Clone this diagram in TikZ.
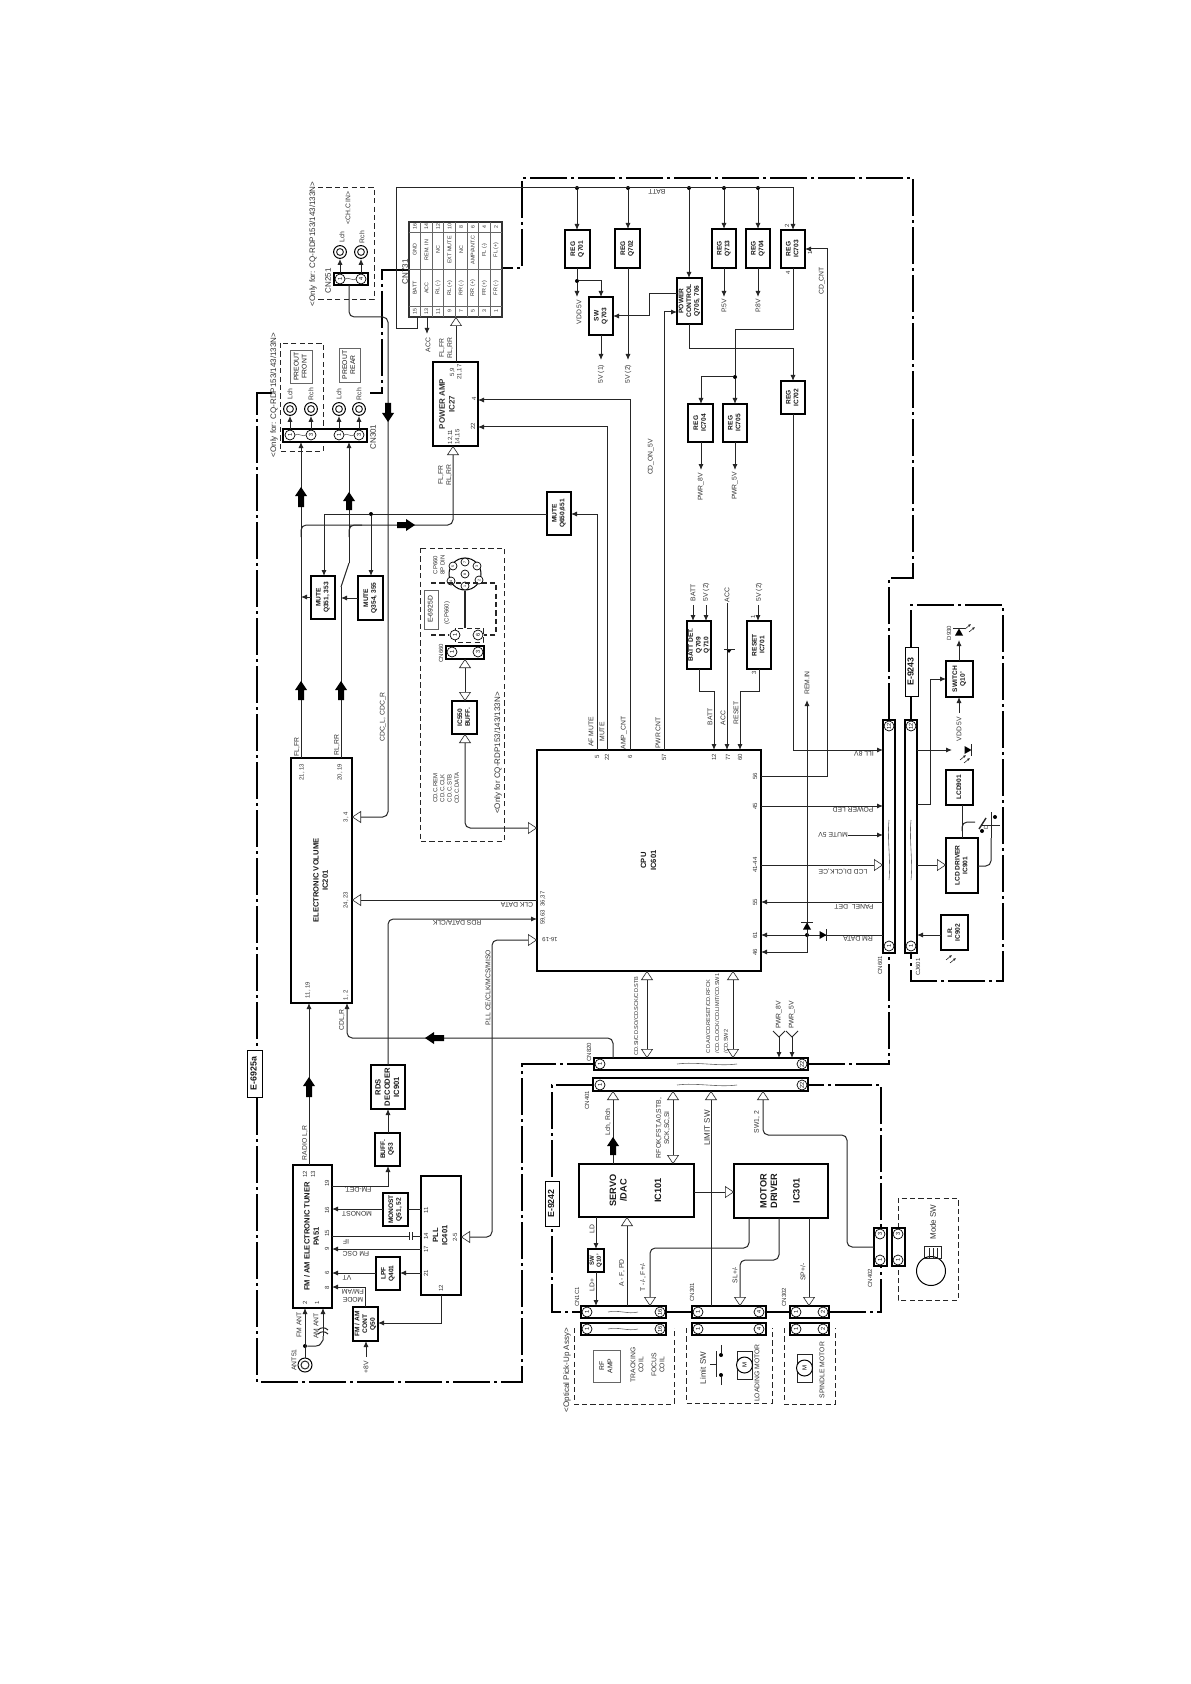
\documentclass[tikz,border=0pt]{standalone}
\usepackage{fontspec}
\usepackage{graphicx}
\setmainfont{Liberation Sans}
\usetikzlibrary{arrows.meta}
\newcounter{lc}
\newcommand\rtxt[1]{\rotatebox{90}{\begin{tabular}{@{}c@{}}#1\end{tabular}}}
\newcommand\bx[7][box]{\node (#2) [#1, minimum width={(#5-#3)*.5pt}, minimum height={(#6-#4)*.5pt}] at ({(#3+#5)/2},{(#4+#6)/2}) {\rtxt{#7}};}
\newcommand\lb[3]{\stepcounter{lc}\node (l\arabic{lc}) [lab] at (#1,#2) {#3};}
\newcommand\lbs[3]{\stepcounter{lc}\node (l\arabic{lc}) [lab,font=\fontsize{3}{3.6}\selectfont] at (#1,#2) {#3};}
\newcommand\lbb[3]{\stepcounter{lc}\node (l\arabic{lc}) [lab,font=\fontsize{4}{4.8}\selectfont] at (#1,#2) {#3};}
\newcommand\lr[3]{\stepcounter{lc}\node (l\arabic{lc}) [lab,rotate=90] at (#1,#2) {#3};}
\newcommand\pc[4]{\node (#1) [pinc] at (#2,#3) {\rotatebox{90}{#4}};}
\newcommand\dt[3]{\node (#1) [dotn] at (#2,#3) {};}
\newcommand\jack[3]{\node (#1) [jackn] at (#2,#3) {}; \draw[ln] (#1.center) circle[radius=1.7pt];}
\newcommand\fatV[4]{\fill[black] ({#1-3},#3)--({#1-3},{#2+9*#4})--({#1-6},{#2+9*#4})--(#1,#2)--({#1+6},{#2+9*#4})--({#1+3},{#2+9*#4})--({#1+3},#3)--cycle;}
\newcommand\fatH[4]{\fill[black] (#3,{#1-3})--({#2+9*#4},{#1-3})--({#2+9*#4},{#1-6})--(#2,#1)--({#2+9*#4},{#1+6})--({#2+9*#4},{#1+3})--(#3,{#1+3})--cycle;}
\newcommand\wave[3]{\draw[black!60,line width=.3pt] (#1,#3) .. controls ({#1+(#2-#1)/3},{#3-2.5}) and ({#1+2*(#2-#1)/3},{#3+2.5}) .. (#2,#3);}
\newcommand\vwave[3]{\draw[black!60,line width=.3pt] (#3,#1) .. controls ({#3-2},{#1+(#2-#1)/3}) and ({#3+2},{#1+2*(#2-#1)/3}) .. (#3,#2);}
\newcommand\diode[3]{\begin{scope}[shift={(#1,#2)},rotate=#3]\fill[black] (-3.5,-4)--(3.5,0)--(-3.5,4)--cycle;\draw[ln] (3.5,-6)--(3.5,6);\end{scope}}
\newcommand\raysm[2]{\begin{scope}[shift={(#1,#2)}]\draw[ln,line width=.3pt,-{Latex[length=1.4pt,width=1.3pt]}] (-2,2)--(4,-3);\draw[ln,line width=.3pt,-{Latex[length=1.4pt,width=1.3pt]}] (2,5)--(8,0);\end{scope}}
\newcommand\motorsym[5]{\draw[ln] (#2,#3) rectangle (#4,#5);\node (#1) [circle,draw=black,line width=.5pt,fill=white,inner sep=0pt,minimum size=8pt,font=\fontsize{3}{3}\selectfont] at ({(#2+#4)/2},{(#3+#5)/2}) {\rotatebox{90}{M}};}
\tikzset{
  x=.5pt,y=-.5pt,
  mysol/.tip={Latex[length=3pt,width=2.6pt]},
  myhol/.tip={Triangle[open,fill=white,length=4.5pt,width=6pt,line width=.3pt]},
  ln/.style={draw=black!85,line width=.5pt},
  ar/.style={ln,-{mysol}},
  ho/.style={ln,-{myhol}},
  hb/.style={ln,{myhol}-{myhol}},
  rc/.style={rounded corners=2.6pt},
  box/.style={draw=black,fill=white,line width=.75pt,inner sep=0pt,outer sep=0pt,text=black!90,font=\fontsize{3.3}{3.9}\selectfont\bfseries},
  boxm/.style={box,font=\fontsize{3.8}{4.6}\selectfont\bfseries},
  boxl/.style={box,font=\fontsize{4.3}{5.3}\selectfont\bfseries},
  boxe/.style={box,line width=.5pt,font=\fontsize{4.4}{5.2}\selectfont\bfseries},
  boxt/.style={box,draw=black!60,line width=.4pt,font=\fontsize{3.4}{4.1}\selectfont\mdseries},
  conn/.style={draw=black,fill=white,line width=.7pt,inner sep=0pt,outer sep=0pt,font=\fontsize{2}{2}\selectfont},
  lab/.style={inner sep=0pt,outer sep=0pt,rotate=90,align=center,text=black!80,font=\fontsize{3.4}{4.1}\selectfont},
  pinc/.style={circle,draw=black,line width=.35pt,fill=white,inner sep=0pt,minimum size=5pt,font=\fontsize{2.8}{3}\selectfont},
  dotn/.style={circle,fill=black,inner sep=0pt,minimum size=2pt},
  jackn/.style={circle,draw=black,line width=.5pt,fill=white,inner sep=0pt,minimum size=6.4pt},
  frame/.style={draw=black,line width=1pt,dash pattern=on 18.5pt off 2pt on 1.5pt off 2pt},
  dbox/.style={draw=black!85,line width=.4pt,dash pattern=on 2.6pt off 1.6pt},
}
\begin{document}
\begin{tikzpicture}
\fill[white] (0,0) rectangle (1190,1684);
\useasboundingbox (0,0) rectangle (1190,1684);
% frames
\draw[frame] (272,393)--(257,393)--(257,1382)--(522,1382)--(522,1064)--(594,1064);
\draw[frame] (808,1064)--(889,1064)--(889,953);
\draw[frame] (889,720)--(889,578)--(913,578)--(913,178)--(522,178)--(522,268)--(502,268);
\draw[frame] (409,270)--(382,270)--(382,393)--(370,393);
\draw[frame] (593,1085)--(552,1085)--(552,1312)--(581,1312);
\draw[frame] (666,1312)--(692,1312);
\draw[frame] (766,1312)--(790,1312);
\draw[frame] (829,1312)--(881,1312)--(881,1085)--(808,1085);
\draw[frame] (911,647)--(911,605)--(1003,605)--(1003,981)--(911,981)--(911,953);
\draw[line width=1pt] (911,696)--(911,720);
\bx[boxe]{e6925}{247}{1050}{262}{1097}{E-6925a}
\bx[boxe]{e9242}{545}{1181}{559}{1226}{E-9242}
\bx[boxe]{e9243}{905}{647}{918}{696}{E-9243}
% dashed groups
\draw[dbox] (318,187)--(374,187)--(374,299)--(318,299);
\draw[dbox] (280,343) rectangle (323,451);
\draw[dbox] (420,548) rectangle (504,841);
\draw[dbox] (574,1328)--(574,1404)--(674,1404)--(674,1328);
\draw[dbox] (686,1328)--(686,1403)--(772,1403)--(772,1328);
\draw[dbox] (784,1328)--(784,1404)--(835,1404)--(835,1328);
\draw[dbox] (898,1228)--(898,1198)--(958,1198)--(958,1300)--(898,1300)--(898,1266);
% CN251
\lbb{313}{244}{<Only for: CQ-RDP153/143/133N>}
\lb{348}{208}{<CH.C IN>}
\jack{j251a}{340}{252}\jack{j251b}{361}{252}
\lb{342}{237}{Lch}\lb{362}{237}{Rch}
\bx[conn]{cn251}{334}{273}{368}{285}{}
\pc{p251a}{340}{279}{1}\pc{p251b}{361}{279}{4}
\wave{345}{356}{279}
\lbb{328}{281}{CN251}
\draw[ar] (cn251.north -| 340,0) -- (j251a.south);
\draw[ar] (cn251.north -| 361,0) -- (j251b.south);
% CN301
\lbb{274}{395}{<Only for: CQ-RDP153/143/133N>}
\bx[boxt]{pfront}{290}{350}{312}{383}{PREOUT\\FRONT}
\bx[boxt]{prear}{339}{348}{360}{382}{PREOUT\\REAR}
\jack{j1}{290}{409}\jack{j2}{311}{409}\jack{j3}{339}{409}\jack{j4}{359}{409}
\lb{290}{394}{Lch}\lb{311}{394}{Rch}\lb{339}{394}{Lch}\lb{359}{394}{Rch}
\bx[conn]{cn301}{283}{429}{367}{442}{}
\pc{p301a}{290}{435}{1}\pc{p301b}{311}{435}{3}\pc{p301c}{339}{435}{1}\pc{p301d}{359}{435}{3}
\wave{295}{306}{435}\wave{344}{354}{435}
\lbb{373}{437}{CN301}
\draw[ar] (cn301.north -| 290,0) -- (j1.south);
\draw[ar] (cn301.north -| 311,0) -- (j2.south);
\draw[ar] (cn301.north -| 339,0) -- (j3.south);
\draw[ar] (cn301.north -| 359,0) -- (j4.south);
% CN731 table
\bx[boxt,draw=black!80,line width=.55pt]{cn731}{409}{222}{502}{317}{}
\foreach \k in {1,...,7}{\draw[black!60,line width=.35pt] ({409+11.6*\k},222)--({409+11.6*\k},317);}
\foreach \k in {232,269,306}{\draw[black!60,line width=.35pt] (409,\k)--(502,\k);}
\foreach \i/\a/\b/\c/\d in {0/15/BATT/GND/16,1/13/ACC/REM. IN/14,2/11/RL (-)/NC/12,3/9/RL (+)/EXT MUTE/10,4/7/RR (-)/NC/8,5/5/RR (+)/{AMP/ANT.C}/6,6/3/FR (+)/FL (-)/4,7/1/FR (-)/FL (+)/2}{
  \node (ta\i) [lab,font=\fontsize{2.6}{3}\selectfont] at ({414.8+11.6*\i},311.5) {\a};
  \node (tb\i) [lab,font=\fontsize{2.7}{3}\selectfont] at ({414.8+11.6*\i},288) {\b};
  \node (tc\i) [lab,font=\fontsize{2.7}{3}\selectfont] at ({414.8+11.6*\i},250) {\c};
  \node (td\i) [lab,font=\fontsize{2.6}{3}\selectfont] at ({414.8+11.6*\i},227) {\d};
}
\lbb{405}{272}{CN731}
\coordinate (accend) at (427,334);
\draw[ar] (cn731.south -| 427,0) -- (accend);
\lb{428}{345}{ACC}
% Power amp
\bx[box,line width=.9pt]{pa}{433}{362}{478}{446}{}
\lbb{447}{404}{\bfseries POWER AMP\\\bfseries IC27}
\lbs{454}{437}{12,11\\14,15}\lbs{456}{372}{5,9\\21,17}
\lbs{474}{399}{4}\lbs{473}{426}{22}
\lb{446}{348}{FL,FR\\RL,RR}\lb{445}{475}{FL,FR\\RL,RR}
\draw[ho] (pa.north -| 456,0) -- (cn731.south -| 456,0);
% Mutes
\bx{q650}{547}{492}{571}{535}{MUTE\\Q650,651}
\bx{q351}{311}{576}{335}{619}{MUTE\\Q351, 353}
\bx{q354}{358}{576}{383}{620}{MUTE\\Q354, 355}
\dt{jm}{371}{514}
\coordinate (sw1) at (341,587);\coordinate (sw2) at (349,563);
% IC201
\bx[boxm]{ic201}{291}{758}{352}{1003}{ELECTRONIC VOLUME\\IC201}
\lbs{302}{772}{21, 13}\lbs{340}{772}{20, 19}\lbs{346}{817}{3, 4}\lbs{346}{900}{24, 23}\lbs{308}{990}{11, 19}\lbs{346}{995}{1, 2}
\lb{297}{747}{FL,FR}\lb{337}{745}{RL,RR}\lb{383}{717}{CDC\_L, CDC\_R}
\draw[ar] (ic201.north -| 301,0) -- (cn301.south -| 301,0);
\draw[ln] (ic201.north -| 341,0) -- (sw1);
\draw[ln] (sw1) -- (sw2);
\draw[ar] (sw2) -- (cn301.south -| 349,0);
\draw[ho,rc] (301,537) -- (301,525) -- (453,525) -- (pa.south -| 453,0);
\draw[ln,rc] (349,537) -- (349,525) -- (362,525);
\draw[ln] (q650.west |- 0,514) -- (jm) -- (324,514);
\draw[ar] (324,514) -- (q351.north -| 324,0);
\draw[ar] (jm) -- (q354.north -| 371,0);
\draw[ar] (q351.west |- 0,597) -- (301,597);
\draw[ar] (q354.west |- 0,598) -- (341,598);
\draw[ho,rc] (cn251.south -| 349,0) -- (349,317) -- (388,317) -- (388,817) -- (ic201.east |- 0,817);
\fatV{388}{422}{403}{-1}
\fatV{301}{487}{507}{1}\fatV{349}{492}{510}{1}
\fatV{301}{681}{700}{1}\fatV{341}{681}{700}{1}
\fatH{525}{415}{397}{-1}
% CP660 group
\node (din) [circle,draw=black,line width=.5pt,fill=white,inner sep=0pt,minimum size=16pt] at (465,574) {};
\foreach \nm/\xx/\yy/\tx in {a/465/574/8,b/453/566/5,c/465/562/7,d/477/566/3,e/451/581/4,f/465/586/1,g/479/580/2}{
  \node (din\nm) [pinc,minimum size=4pt,font=\fontsize{1.8}{2}\selectfont] at (\xx,\yy) {\rotatebox{90}{\tx}};}
\lbs{439}{565}{CP660\\8P DIN}
\bx[boxt]{e6925d}{424}{590}{438}{629}{E-6925D}
\lbs{447}{613}{(CP660)}
\draw[dbox] (455,628) rectangle (483,642);
\pc{p660a}{455}{635}{1}\pc{p660b}{478}{635}{6}
\draw[dbox,line width=.7pt] (431,583)--(496,583)--(496,635)--(484,635);
\draw[dbox,line width=.7pt] (431,635)--(449,635);
\draw[ln,line width=.7pt] (din.south) -- (465,628);
\bx[conn]{cn660}{446}{646}{484}{659}{}
\pc{p660c}{452}{652}{1}\pc{p660d}{478}{652}{3}
\lbs{441}{653}{CN660}
\bx{ic550}{452}{701}{477}{734}{IC550\\BUFF.}
\draw[hb] (cn660.south -| 465,0) -- (ic550.north -| 465,0);
\lbs{446}{788}{CD.C.REM\\CD.C.CLK\\CD.C.STB\\CD.C.DATA}
\lbb{498}{753}{<Only for CQ-RDP153/143/133N>}
% CPU
\bx[boxl,line width=.9pt,font=\fontsize{3.8}{5}\selectfont\bfseries]{cpu}{537}{750}{761}{971}{CPU\\IC601}
\draw[hb,rc] (ic550.south -| 465,0) -- (465,828) -- (cpu.west |- 0,828);
\lbs{597}{757}{5}\lbs{607}{757}{22}\lbs{630}{757}{6}\lbs{664}{757}{57}\lbs{714}{757}{12}\lbs{728}{757}{77}\lbs{740}{757}{60}
\lbs{755}{776}{56}\lbs{755}{806}{45}\lbs{755}{865}{41-44}\lbs{755}{902}{55}\lbs{755}{935}{61}\lbs{755}{952}{46}
\lbs{543}{908}{59,63\ \ 36,37}
\node (lcpu1619) [lab,rotate=90,font=\fontsize{3}{3.6}\selectfont] at (550,940) {16-19};
\lb{591}{732}{AF MUTE}\lb{602}{732}{MUTE}\lb{624}{733}{AMP\_CNT}\lb{658}{733}{PWR CNT}
\lb{710}{717}{BATT}\lb{723}{718}{ACC}\lb{736}{713}{RESET}
\lr{864}{754}{ILL 8V}\lr{853}{810}{POWER LED}\lr{833}{835}{MUTE 5V}\lr{843}{871}{LCD DI,CLK,CE}\lr{854}{906}{PANEL\_DET}\lr{858}{939}{RM DATA}
\lr{517}{905}{CLK DATA}\lr{457}{923}{RDS DATA/CLK}
\lb{488}{988}{P.LL CE/CLK/MCS/MISO}
\draw[ho] (cpu.west |- 0,900) -- (ic201.east |- 0,900);
% Tuner area
\bx[boxm]{tuner}{293}{1165}{332}{1308}{FM / AM ELECTRONIC TUNER\\PA51}
\lb{305}{1143}{RADIO L,R}
\lbs{305}{1174}{12}\lbs{313}{1174}{13}\lbs{327}{1183}{19}\lbs{327}{1210}{16}\lbs{327}{1233}{15}\lbs{327}{1249}{9}\lbs{327}{1273}{6}\lbs{327}{1288}{8}\lbs{305}{1303}{2}\lbs{317}{1303}{1}
\bx[boxm]{rds}{371}{1065}{405}{1109}{RDS\\DECODER\\IC901}
\bx{buff}{375}{1133}{400}{1166}{BUFF.\\Q53}
\bx{monost}{383}{1193}{408}{1226}{MONOST\\Q51, 52}
\bx[boxm]{pll}{421}{1176}{461}{1295}{PLL\\IC401}
\bx{lpf}{376}{1257}{400}{1290}{LPF\\Q401}
\bx{fmcont}{353}{1307}{378}{1341}{FM / AM\\CONT\\Q50}
\lbs{426}{1210}{11}\lbs{426}{1236}{14}\lbs{426}{1249}{17}\lbs{426}{1273}{21}\lbs{441}{1288}{12}\lbs{455}{1237}{2-5}
\lr{358}{1190}{FM-DET.}\lr{357}{1214}{MONOST}\lr{346}{1242}{IF}\lr{356}{1254}{FM OSC}\lr{347}{1278}{VT}\lr{353}{1296}{MODE\\FM/AM}
\lb{299}{1325}{FM ANT}\lb{316}{1326}{AM ANT}\lb{294}{1360}{ANT51}\lb{366}{1367}{+8V}
\lb{342}{1020}{CDL,R}
\draw[ar] (tuner.north -| 309,0) -- (ic201.south -| 309,0);
\fatV{309}{1077}{1097}{1}
\draw[ar,rc] (rds.north -| 388,0) -- (388,919) -- (cpu.west |- 0,919);
\draw[ar] (buff.north -| 388,0) -- (rds.south -| 388,0);
\draw[ar] (tuner.east |- 0,1186) -- (388,1186) -- (buff.south -| 388,0);
\draw[ar] (monost.west |- 0,1209) -- (tuner.east |- 0,1209);
\draw[ln] (pll.west |- 0,1209) -- (monost.east |- 0,1209);
\coordinate (capa) at (409,1236);\coordinate (capb) at (412,1236);
\draw[ln] (tuner.east |- 0,1236) -- (capa);
\draw[ln] (capb) -- (pll.west |- 0,1236);
\draw[ln] (409,1232)--(409,1240);\draw[ln] (412,1232)--(412,1240);
\draw[ar] (pll.west |- 0,1249) -- (tuner.east |- 0,1249);
\draw[ar] (pll.west |- 0,1273) -- (lpf.east |- 0,1273);
\draw[ar] (lpf.west |- 0,1273) -- (tuner.east |- 0,1273);
\draw[ar] (fmcont.north -| 365,0) -- (365,1287) -- (tuner.east |- 0,1287);
\draw[ar] (pll.south -| 441,0) -- (441,1323) -- (fmcont.east |- 0,1323);
\coordinate (p8v) at (366,1357);
\draw[ar] (p8v) -- (fmcont.south -| 366,0);
\draw[hb,rc] (cpu.west |- 0,940) -- (492,940) -- (492,1237) -- (pll.east |- 0,1237);
\node (ant) [jackn,minimum size=7pt] at (305,1365) {};
\draw[ln] (ant.center) circle[radius=2pt];
\dt{jant}{305}{1346}
\draw[ar] (ant.north) -- (tuner.south -| 305,0);
\coordinate (amc) at (323,1336);
\draw[ln] (jant) -- (316,1346) .. controls (321,1346) and (321,1342) .. (323,1340) -- (amc);
\draw[ar] (amc) -- (tuner.south -| 323,0);
\draw[ln] (318,1330) .. controls (321,1327) and (325,1327) .. (328,1330);
\draw[ln] (318,1334) .. controls (321,1331) and (325,1331) .. (328,1334);
% CN820 / CN401
\bx[conn]{cn820}{594}{1058}{808}{1070}{}
\bx[conn]{cn401}{593}{1078}{808}{1091}{}
\pc{p820a}{600}{1064}{1}\pc{p820b}{802}{1064}{22}\pc{p401a}{600}{1085}{1}\pc{p401b}{802}{1085}{22}
\wave{677}{737}{1064}\wave{677}{737}{1085}
\lbs{589}{1052}{CN820}\lbs{587}{1100}{CN401}
\draw[ar,rc] (cn820.north -| 613,0) -- (613,1038) -- (347,1038) -- (ic201.south -| 347,0);
\fatH{1038}{425}{444}{1}
\draw[hb] (cn820.north -| 647,0) -- (cpu.south -| 647,0);
\draw[hb] (cn820.north -| 733,0) -- (cpu.south -| 733,0);
\node (lcd2) [lab,font=\fontsize{2.8}{3.4}\selectfont] at (636,1016) {CD.SI/CD.SO/CD.SCK/CD.STB};
\node (lcd3) [lab,align=left,anchor=west,font=\fontsize{2.8}{4.4}\selectfont] at (717,1053) {CD.A0/CD.RESET/CD.RFCK\\/CD.CLOCK/CD.LIMIT/CD.SW1\\/CD.SW2};
\coordinate (y8) at (779,1037);\coordinate (y5) at (792,1037);
\draw[ar] (y8) -- (cn820.north -| 779,0);\draw[ar] (y5) -- (cn820.north -| 792,0);
\draw[ln] (773,1031)--(y8)--(785,1031);\draw[ln] (786,1031)--(y5)--(798,1031);
\lb{779}{1015}{PWR\_8V}\lb{792}{1015}{PWR\_5V}
% Servo etc
\bx[boxl,line width=.8pt,font=\fontsize{4.6}{5.3}\selectfont\bfseries]{servo}{579}{1164}{694}{1217}{SERVO\\/DAC\\[12pt]IC101}
\bx[boxl,line width=.8pt,font=\fontsize{4.6}{5.3}\selectfont\bfseries]{motor}{734}{1164}{828}{1218}{MOTOR\\DRIVER\\[6pt]IC301}
\bx[box,line width=.6pt,font=\fontsize{3}{3.5}\selectfont\bfseries]{swq}{588}{1249}{604}{1272}{SW\\Q10'}
\bx[conn]{cn1c1}{581}{1306}{666}{1318}{}
\bx[conn]{cn1c1b}{581}{1323}{666}{1335}{}
\bx[conn]{cn301b}{692}{1306}{766}{1318}{}
\bx[conn]{cn301c}{692}{1323}{766}{1335}{}
\bx[conn]{cn302}{790}{1306}{829}{1318}{}
\bx[conn]{cn302b}{790}{1323}{829}{1335}{}
\pc{pa1}{587}{1312}{1}\pc{pa2}{660}{1312}{16}\pc{pa3}{587}{1329}{1}\pc{pa4}{660}{1329}{16}
\pc{pb1}{698}{1312}{1}\pc{pb2}{759}{1312}{4}\pc{pb3}{698}{1329}{1}\pc{pb4}{759}{1329}{4}
\pc{pc1}{796}{1312}{1}\pc{pc2}{823}{1312}{2}\pc{pc3}{796}{1329}{1}\pc{pc4}{823}{1329}{2}
\wave{608}{638}{1312}\wave{608}{638}{1329}
\lbs{577}{1297}{CN1C1}\lbs{692}{1292}{CN301}\lbs{784}{1297}{CN302}
\draw[ho] (servo.north -| 613,0) -- (cn401.south -| 613,0);
\fatV{613}{1137}{1155}{1}
\lb{608}{1122}{Lch, Rch}
\draw[hb] (servo.north -| 673,0) -- (cn401.south -| 673,0);
\lb{663}{1128}{RFOK,FST,A0,STB,\\SCK,SC,SI}
\draw[ho] (cn301b.north -| 711,0) -- (cn401.south -| 711,0);
\lbb{707}{1128}{LIMIT SW}
\bx[conn]{cn402a}{874}{1228}{887}{1266}{}
\bx[conn]{cn402b}{892}{1228}{905}{1266}{}
\pc{pd1}{880}{1234}{3}\pc{pd2}{880}{1260}{1}\pc{pd3}{898}{1234}{3}\pc{pd4}{898}{1260}{1}
\lbs{870}{1278}{CN402}
\draw[ho,rc] (cn402a.west |- 0,1247) -- (847,1247) -- (847,1135) -- (763,1135) -- (cn401.south -| 763,0);
\lb{757}{1122}{SW1, 2}
\draw[ho] (servo.east |- 0,1192) -- (motor.west |- 0,1192);
\draw[ar] (servo.south -| 596,0) -- (swq.north -| 596,0);
\lb{592}{1229}{LD}
\draw[ar] (swq.south -| 596,0) -- (cn1c1.north -| 596,0);
\lb{592}{1285}{LD+}
\draw[ho] (cn1c1.north -| 627,0) -- (servo.south -| 627,0);
\lb{622}{1273}{A - F, PD}
\draw[ho,rc] (motor.south -| 749,0) -- (749,1248) -- (650,1248) -- (cn1c1.north -| 650,0);
\lb{643}{1277}{T -/-, F+/-}
\draw[ho,rc] (motor.south -| 779,0) -- (779,1260) -- (740,1260) -- (cn301b.north -| 740,0);
\lb{735}{1275}{SL+/-}
\draw[ho] (motor.south -| 809,0) -- (cn302.north -| 809,0);
\lb{803}{1272}{SP+/-}
% pick-up, motors, mode sw
\lbb{567}{1370}{<Optical Pick-Up Assy>}
\bx[boxt]{rfamp}{593}{1350}{620}{1382}{RF\\AMP}
\lb{637}{1365}{TRACKING\\COIL}\lb{658}{1365}{FOCUS\\COIL}
\lbb{703}{1368}{Limit SW}
\dt{sa}{721}{1355}\dt{sb}{721}{1375}
\draw[ln] (716,1351)--(716,1377);
\draw[ln] (721,1345)--(sa);\draw[ln] (721,1385)--(sb);
\draw[ln] (716,1364)--(710,1364);
\motorsym{mload}{737}{1351}{752}{1379}
\lb{757}{1373}{LOADING MOTOR}
\motorsym{mspin}{797}{1354}{812}{1382}
\lb{822}{1370}{SPINDLE MOTOR}
\lbb{933}{1222}{Mode SW}
\node (modec) [circle,draw=black,line width=.5pt,fill=white,inner sep=0pt,minimum size=14.5pt] at (931,1271) {};
\draw[ln] (924,1246) rectangle (941,1258);
\foreach \q in {929,933,937}{\draw[ln,line width=.3pt] (\q,1248)--(\q,1258);}
% REG block
\dt{d1}{577}{188}\dt{d2}{628}{188}\dt{d3}{689}{188}\dt{d4}{724}{188}\dt{d5}{758}{188}
\bx{q701}{565}{230}{590}{268}{REG\\Q701}
\bx{q702}{615}{229}{640}{268}{REG\\Q702}
\bx{q713}{712}{229}{736}{268}{REG\\Q713}
\bx{q704}{746}{229}{770}{268}{REG\\Q704}
\bx{ic703}{781}{230}{805}{268}{REG\\IC703}
\bx{pctl}{677}{278}{702}{324}{POWER\\CONTROL\\Q705, 706}
\bx{swq703}{589}{297}{613}{335}{SW\\Q703}
\bx{ic702}{781}{381}{805}{414}{REG\\IC702}
\bx{ic704}{688}{404}{713}{442}{REG\\IC704}
\bx{ic705}{723}{404}{747}{442}{REG\\IC705}
\lr{657}{192}{BATT}
\draw[ar] (cn731.south -| 417,0) -- (417,329) -- (396,329) -- (396,188) -- (793,188) -- (ic703.north -| 793,0);
\draw[ar] (d1) -- (q701.north -| 577,0);
\draw[ar] (d2) -- (q702.north -| 628,0);
\draw[ar] (d3) -- (pctl.north -| 689,0);
\draw[ar] (d4) -- (q713.north -| 724,0);
\draw[ar] (d5) -- (q704.north -| 758,0);
\dt{jv}{577}{281}
\coordinate (vdd) at (577,297);\coordinate (v51) at (601,360);\coordinate (v52) at (628,360);
\coordinate (p5) at (724,297);\coordinate (p8) at (758,297);
\draw[ln] (q701.south -| 577,0) -- (jv);
\draw[ar] (jv) -- (vdd);
\draw[ar] (jv) -- (601,281) -- (swq703.north -| 601,0);
\draw[ar] (swq703.south -| 601,0) -- (v51);
\draw[ar] (q702.south -| 628,0) -- (v52);
\draw[ar] (q713.south -| 724,0) -- (p5);
\draw[ar] (q704.south -| 758,0) -- (p8);
\lb{579}{312}{VDD 5V}\lb{601}{374}{5V (1)}\lb{628}{374}{5V (2)}\lb{724}{306}{P.5V}\lb{758}{306}{P.8V}
\draw[ar] (pctl.west |- 0,294) -- (649,294) -- (649,316) -- (swq703.east |- 0,316);
\draw[ar] (cpu.north -| 664,0) -- (664,312) -- (pctl.west |- 0,312);
\lb{651}{457}{CD\_ON\_5V}
\draw[ar] (pctl.south -| 689,0) -- (689,349) -- (793,349) -- (ic702.north -| 793,0);
\dt{j7}{735}{377}
\draw[ln] (ic703.south -| 793,0) -- (793,330) -- (735,330) -- (j7);
\draw[ar] (j7) -- (ic705.north -| 735,0);
\draw[ar] (j7) -- (701,377) -- (ic704.north -| 701,0);
\coordinate (pw8) at (701,470);\coordinate (pw5) at (735,470);
\draw[ar] (ic704.south -| 701,0) -- (pw8);
\draw[ar] (ic705.south -| 735,0) -- (pw5);
\lb{701}{487}{PWR\_8V}\lb{735}{486}{PWR\_5V}
\lbs{787}{226}{2}\lbs{788}{273}{4}\lbs{810}{253}{1}
\lb{822}{281}{CD\_CNT}
\draw[ar] (cpu.east |- 0,776) -- (827,776) -- (827,249) -- (ic703.east |- 0,249);
\draw[ar] (cpu.north -| 597,0) -- (597,514) -- (q650.east |- 0,514);
\draw[ar] (cpu.north -| 607,0) -- (607,427) -- (pa.east |- 0,427);
\draw[ar] (cpu.north -| 630,0) -- (630,400) -- (pa.east |- 0,400);
% batt det / reset
\bx{batdet}{687}{621}{711}{669}{BATT DET.\\Q709\\Q710}
\bx{reset}{747}{621}{771}{669}{RESET\\IC701}
\coordinate (b1) at (693,605);\coordinate (b2) at (706,605);\coordinate (b3) at (758,605);\coordinate (b4) at (727,603);
\draw[ar] (b1) -- (batdet.north -| 693,0);
\draw[ar] (b2) -- (batdet.north -| 706,0);
\draw[ar] (b3) -- (reset.north -| 758,0);
\lb{693}{593}{BATT}\lb{706}{592}{5V (2)}\lb{759}{592}{5V (2)}\lb{727}{595}{ACC}
\lbs{753}{617}{1}\lbs{754}{673}{3}
\draw[ar] (batdet.south -| 699,0) -- (699,691) -- (714,691) -- (cpu.north -| 714,0);
\draw[ar] (b4) -- (cpu.north -| 727,0);
\draw[ar] (reset.south -| 759,0) -- (759,691) -- (740,691) -- (cpu.north -| 740,0);
\begin{scope}[shift={(729,651)}]\fill[black] (-3,-2)--(3,-2)--(0,2)--cycle;\draw[ln] (-5,-2)--(6,-2);\end{scope}
% CN601 / CJ601
\bx[conn]{cn601}{883}{720}{895}{953}{}
\bx[conn]{cj601}{905}{720}{917}{953}{}
\pc{q1}{889}{726}{12}\pc{q2}{889}{946}{1}\pc{q3}{911}{726}{12}\pc{q4}{911}{946}{1}
\vwave{820}{880}{889}\vwave{820}{880}{911}
\lbs{880}{965}{CN601}\lbs{918}{967}{CJ601}
\draw[ar] (ic702.south -| 793,0) -- (793,750) -- (cn601.west |- 0,750);
\draw[ar] (cpu.east |- 0,806) -- (cn601.west |- 0,806);
\coordinate (m5) at (848,835);
\draw[ar] (m5) -- (cn601.west |- 0,835);
\draw[ho] (cpu.east |- 0,865) -- (cn601.west |- 0,865);
\draw[ar] (cn601.west |- 0,902) -- (cpu.east |- 0,902);
\draw[ar] (cn601.west |- 0,935) -- (cpu.east |- 0,935);
\coordinate (remup) at (807,700);
\dt{jr}{807}{935}
\draw[ln,{mysol}-{mysol}] (cpu.east |- 0,952) -- (807,952) -- (remup);
\diode{807}{926}{90}
\diode{823}{935}{0}
\lb{807}{683}{REM.IN}
% right panel
\bx{switchq}{946}{661}{973}{697}{SWITCH\\Q10'}
\bx{lcd901}{946}{770}{973}{805}{LCD901}
\bx[box,line width=.7pt]{lcddrv}{946}{838}{978}{893}{LCD DRIVER\\IC901}
\bx{irq}{941}{915}{968}{950}{I.R.\\IC902}
\coordinate (d930a) at (959,640);\coordinate (vd) at (959,713);\coordinate (led) at (952,750);
\draw[ar] (switchq.north -| 959,0) -- (d930a);
\diode{959}{632}{90}
\raysm{967}{627}
\lbs{949}{633}{D930}
\draw[ar] (vd) -- (switchq.south -| 959,0);
\lb{959}{729}{VDD 5V}
\draw[ar] (cj601.east |- 0,804) -- (930,804) -- (930,679) -- (switchq.west |- 0,679);
\draw[ar] (cj601.east |- 0,750) -- (led);
\diode{968}{750}{0}
\raysm{962}{758}
\draw[ho] (cj601.east |- 0,865) -- (lcddrv.west |- 0,865);
\draw[ln] (lcddrv.north -| 962,0) -- (lcd901.south -| 962,0);
\draw[ar] (irq.west |- 0,935) -- (cj601.east |- 0,935);
\raysm{948}{958}
\dt{c1}{982}{831}\dt{c2}{995}{817}
\draw[ln,rc] (962,831) -- (962,822) -- (975,822);
\draw[ln,line width=.7pt] (979,829)--(986,818);
\draw[ln,rc] (lcddrv.east |- 0,866) -- (991,866) -- (991,838);
\draw[ln,line width=.3pt] (991,812)--(991,838);\draw[ln,line width=.3pt] (982,825)--(1000,825);
\lbs{986}{827}{D}
\end{tikzpicture}
\end{document}
